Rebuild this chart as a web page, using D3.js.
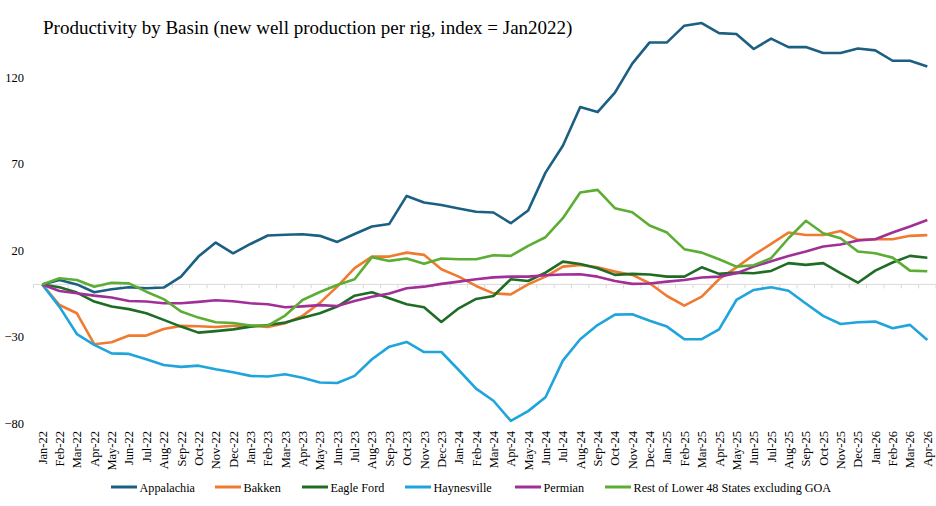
<!DOCTYPE html>
<html lang="en"><head>
<meta charset="utf-8"/>
<title>Productivity by Basin</title>
<script src="https://d3js.org/d3.v7.min.js"></script>
<style>
    body {width: 936px; height: 506px; margin: 0; padding: 0; background: #fff;
        font-family: 'Liberation Serif', 'Times New Roman', serif;}
    svg text {font-family: 'Liberation Serif', 'Times New Roman', serif; fill: #000;}
    .axis text {font-size: 12.5px;}
    .legend text {font-size: 12.2px;}
</style>
</head>
<body>
<div id="chart"></div>
<script>
    // Months on the category axis
    const months = [
        "Jan-22","Feb-22","Mar-22","Apr-22","May-22","Jun-22","Jul-22","Aug-22","Sep-22","Oct-22","Nov-22","Dec-22",
        "Jan-23","Feb-23","Mar-23","Apr-23","May-23","Jun-23","Jul-23","Aug-23","Sep-23","Oct-23","Nov-23","Dec-23",
        "Jan-24","Feb-24","Mar-24","Apr-24","May-24","Jun-24","Jul-24","Aug-24","Sep-24","Oct-24","Nov-24","Dec-24",
        "Jan-25","Feb-25","Mar-25","Apr-25","May-25","Jun-25","Jul-25","Aug-25","Sep-25","Oct-25","Nov-25","Dec-25",
        "Jan-26","Feb-26","Mar-26","Apr-26"
    ];

    // Series values (index = Jan2022)
    const appalachia = [0, 2.5, 0, -4.5, -2.8, -1.6, -2.2, -1.8, 4.5, 16.1, 24.2, 18.0,
        23.4, 28.3, 28.7, 29.0, 28.1, 24.6, 29.2, 33.5, 35.0, 51.2, 47.4, 45.9,
        43.9, 42.0, 41.6, 35.4, 42.8, 64.7, 80.2, 102.6, 99.7, 111.0, 127.7, 140.0,
        140.0, 149.7, 151.2, 145.4, 144.9, 136.2, 142.2, 137.3, 137.3, 133.9, 133.9, 136.5,
        135.4, 129.4, 129.4, 126.1];
    const bakken = [0, -11.9, -16.7, -34.6, -33.5, -29.6, -29.6, -25.8, -24.0, -24.2, -24.6, -23.9,
        -23.8, -24.6, -22.5, -18.2, -10.7, -1.3, 9.4, 16.1, 16.1, 18.4, 17.1, 8.8,
        4.5, -0.9, -5.2, -5.8, 0, 4.5, 10.3, 11.3, 9.9, 7.4, 5.5, 0.7,
        -6.7, -12.3, -7.1, 3.0, 9.9, 17.1, 23.4, 30.0, 28.6, 28.6, 30.9, 25.8,
        26.1, 26.1, 28.1, 28.5];
    const eagleFord = [0, -1.6, -4.7, -9.9, -12.8, -14.3, -16.7, -20.5, -24.4, -27.9, -27.0, -26.0,
        -24.4, -23.5, -22.1, -19.3, -16.7, -12.8, -6.5, -4.5, -8.0, -11.5, -13.2, -21.7,
        -13.8, -8.4, -6.7, 3.0, 2.0, 6.8, 13.2, 11.8, 9.4, 5.5, 6.1, 5.7,
        4.5, 4.5, 9.9, 6.1, 6.8, 6.5, 7.8, 12.3, 11.3, 12.3, 6.5, 1.0,
        8.0, 12.7, 16.5, 15.4];
    const haynesville = [0, -13.0, -28.7, -35.0, -39.9, -40.2, -43.3, -46.6, -47.7, -47.0, -49.1, -50.8,
        -52.9, -53.3, -52.0, -54.0, -56.7, -57.0, -52.9, -43.3, -36.0, -33.3, -39.1, -39.1,
        -49.5, -60.3, -67.3, -78.9, -73.3, -65.3, -44.1, -31.7, -23.5, -17.5, -17.3, -21.0,
        -24.4, -31.7, -31.7, -26.0, -9.0, -3.2, -1.6, -3.7, -11.0, -18.2, -22.9, -21.9,
        -21.5, -25.4, -23.4, -32.1];
    const permian = [0, -3.8, -5.1, -6.5, -7.6, -9.6, -9.9, -10.9, -10.9, -10.1, -9.2, -9.7,
        -10.9, -11.5, -13.2, -12.7, -12.0, -12.5, -9.6, -7.1, -5.2, -2.2, -1.3, 0.3,
        1.6, 3.0, 4.1, 4.5, 4.5, 5.3, 5.7, 5.9, 4.5, 2.0, 0.3, 0.5,
        1.6, 2.6, 4.0, 4.5, 6.5, 10.3, 13.4, 16.5, 19.0, 21.9, 23.1, 25.4,
        26.1, 30.0, 33.5, 37.3];
    const restL48 = [0, 3.6, 2.6, -1.3, 1.0, 0.6, -4.2, -8.5, -15.7, -19.2, -21.9, -22.3,
        -23.8, -23.8, -18.0, -9.0, -4.4, -0.3, 3.0, 15.8, 13.6, 15.0, 11.9, 15.0,
        14.6, 14.6, 16.9, 16.5, 22.3, 27.3, 38.3, 53.2, 54.7, 44.1, 41.8, 34.1,
        30.0, 20.4, 18.4, 14.6, 10.3, 11.1, 15.2, 26.7, 36.8, 29.6, 26.7, 19.0,
        18.0, 15.5, 8.0, 7.6];

    const seriesNames = ["Appalachia", "Bakken", "Eagle Ford", "Haynesville", "Permian",
        "Rest of Lower 48 States excluding GOA"];
    const seriesValues = [appalachia, bakken, eagleFord, haynesville, permian, restL48];
    const seriesColors = ["#1b5f82", "#ee7b30", "#1f6c24", "#1fa4dc", "#a12f97", "#5cad34"];

    const yTicks = [-80, -30, 20, 70, 120];

    const width = 936, height = 506;

    const svg = d3.select("#chart")
        .append("svg")
        .attr("width", width)
        .attr("height", height);

    // Title
    svg.append("text")
        .attr("x", 43)
        .attr("y", 34)
        .style("font-size", "19px")
        .text("Productivity by Basin (new well production per rig, index = Jan2022)");

    // Scales
    const x = d3.scaleBand()
        .domain(months)
        .range([33.5, 936])
        .paddingInner(0)
        .paddingOuter(0);
    const xc = d => x(d) + x.bandwidth() / 2;

    const y = d3.scaleLinear()
        .domain([-80, 120])
        .range([422.7, 77]);

    // Y axis labels (no axis line)
    const yAxis = svg.append("g")
        .attr("class", "axis")
        .attr("transform", "translate(24,0)")
        .call(d3.axisLeft(y).tickValues(yTicks).tickSize(0).tickPadding(0));
    yAxis.select(".domain").remove();
    yAxis.selectAll("text").attr("dy", "0.35em");

    // Zero line with tick marks between categories
    const zero = svg.append("g");
    zero.append("line")
        .attr("x1", x.range()[0])
        .attr("x2", x.range()[1])
        .attr("y1", y(0))
        .attr("y2", y(0))
        .attr("stroke", "#d9d9d9")
        .attr("stroke-width", 1);
    zero.selectAll(".tick")
        .data(months.concat(["end"]))
        .enter()
        .append("line")
        .attr("x1", (d, i) => x.range()[0] + i * x.bandwidth())
        .attr("x2", (d, i) => x.range()[0] + i * x.bandwidth())
        .attr("y1", y(0))
        .attr("y2", y(0) + 4)
        .attr("stroke", "#d9d9d9")
        .attr("stroke-width", 1);

    // X labels, rotated
    svg.append("g")
        .attr("class", "axis")
        .selectAll("text")
        .data(months)
        .enter()
        .append("text")
        .attr("transform", d => `translate(${xc(d) + 4.5},431) rotate(-90)`)
        .attr("text-anchor", "end")
        .text(d => d);

    // Lines
    const line = d3.line()
        .x((d, i) => xc(months[i]))
        .y(d => y(d));

    svg.selectAll(".series")
        .data(seriesValues)
        .enter()
        .append("path")
        .attr("class", "series")
        .attr("d", d => line(d))
        .attr("fill", "none")
        .attr("stroke", (d, i) => seriesColors[i])
        .attr("stroke-width", 2.6)
        .attr("stroke-linejoin", "round");

    // Legend
    const legendX = [111, 215, 302, 405, 515, 605];
    const legend = svg.append("g").attr("class", "legend");
    seriesNames.forEach((name, i) => {
        legend.append("line")
            .attr("x1", legendX[i])
            .attr("x2", legendX[i] + 26)
            .attr("y1", 487)
            .attr("y2", 487)
            .attr("stroke", seriesColors[i])
            .attr("stroke-width", 3);
        legend.append("text")
            .attr("x", legendX[i] + 28.5)
            .attr("y", 491.5)
            .text(name);
    });
</script>
</body></html>
